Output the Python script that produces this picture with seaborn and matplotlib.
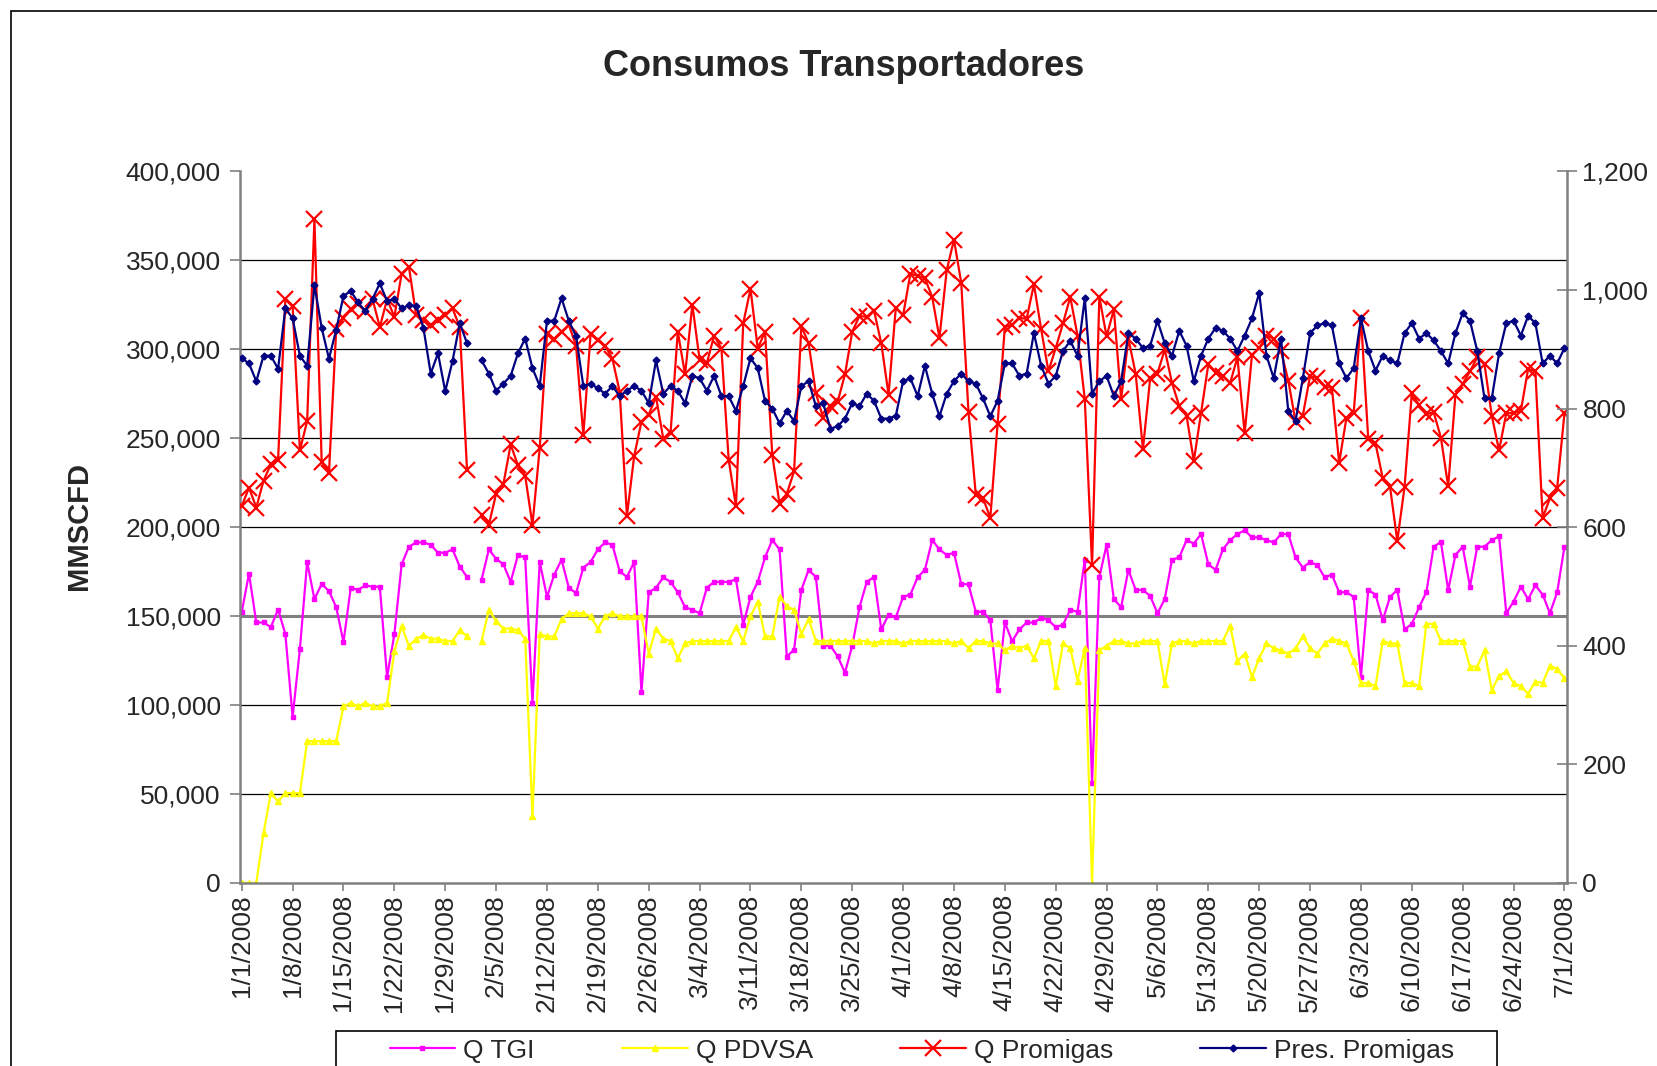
import numpy as np
import pandas as pd
import seaborn as sns
import matplotlib.pyplot as plt
from matplotlib.lines import Line2D
from matplotlib.patches import Rectangle
from matplotlib.ticker import FuncFormatter

nan = np.nan

# daily values 1/1/2008 .. 7/1/2008, flows in thousands of MMSCFD, 2/2 missing
q_tgi = [152.4, 173.9, 146.4, 146.4, 143.8, 153.7, 139.9, 93.3, 131.5, 180.4, 159.5, 168.1, 164.0, 155.0, 135.4, 166.0,
         164.7, 167.3, 166.5, 166.5, 115.8, 139.9, 179.1, 189.0, 191.4, 191.4, 190.1, 185.6, 185.6, 187.5, 177.8, 172.0,
         nan,
         170.5, 187.5, 182.2, 179.1, 169.2, 184.3, 183.0, 101.4, 180.4, 160.8, 173.3, 181.7, 166.0, 162.9, 177.2,
         180.4, 187.5, 191.4, 190.1, 175.2, 172.0, 180.4, 107.2, 163.3, 165.9, 171.8, 169.2, 163.4, 155.0, 153.5,
         151.6, 166.0, 169.2, 169.2, 169.2, 170.7, 145.1, 160.8, 169.2, 183.0, 192.7, 187.5, 127.2, 131.2, 164.7,
         175.9, 172.0, 133.3, 133.3, 127.4, 118.2, 133.3, 155.0, 169.2, 172.0, 142.5, 150.8, 149.3, 160.8, 162.1, 171.8,
         176.0, 192.7, 187.5, 184.3, 185.6, 168.1, 167.8, 152.4, 152.4, 147.7, 108.5, 146.4, 135.9, 142.5, 146.4,
         146.4, 149.0, 147.7, 143.8, 145.1, 153.5, 152.4, 181.7, 56.2, 171.8, 190.1, 159.5, 155.0, 176.0, 164.7, 164.7,
         161.3, 151.6, 159.5, 181.7, 183.0, 192.7, 190.8, 196.1, 179.1, 176.0, 187.5, 192.7, 196.1, 198.2, 194.2,
         194.2, 192.7, 191.4, 196.1, 196.1, 183.0, 177.3, 180.4, 178.6, 171.8, 173.3, 163.4, 163.4, 160.8, 115.8, 164.7,
         162.1, 147.7, 160.8, 164.7, 142.5, 145.6, 155.0, 163.4, 189.0, 191.6, 164.7, 184.3, 189.0, 166.5, 189.0,
         189.0, 192.7, 194.8, 151.6, 158.2, 166.5, 159.5, 167.3, 162.1, 151.6, 163.4, 189.0]

q_pdvsa = [0, 0, 0, 28.0, 50.5, 45.8, 50.5, 50.5, 50.5, 79.7, 79.7, 79.7, 79.7, 79.7, 99.3, 101.2,
           99.3, 101.2, 99.3, 99.3, 101.2, 130.1, 144.3, 133.3, 137.3, 139.3, 137.3, 137.3, 136.0, 136.0, 142.0, 138.6,
           nan,
           136.0, 153.5, 147.2, 143.0, 143.0, 142.0, 137.3, 37.4, 139.9, 138.6, 138.6, 148.2, 151.6, 151.6, 151.6,
           149.8, 143.0, 149.8, 151.6, 149.8, 149.8, 149.8, 149.8, 128.9, 143.0, 137.3, 136.0, 126.3, 134.6, 136.0,
           136.0, 136.0, 136.0, 136.0, 136.0, 143.8, 136.0, 149.8, 158.2, 138.6, 138.6, 160.8, 155.6, 153.5, 139.9,
           148.2, 136.0, 136.0, 136.0, 136.0, 136.0, 136.0, 136.0, 136.0, 134.6, 136.0, 136.0, 136.0, 134.6, 136.0, 136.0,
           136.0, 136.0, 136.0, 136.0, 134.6, 136.0, 132.0, 136.0, 136.0, 134.6, 134.6, 130.7, 133.3, 132.0, 133.3,
           126.3, 136.0, 136.0, 110.6, 134.6, 132.0, 113.7, 132.0, 0.0, 130.7, 133.3, 136.0, 136.0, 134.6, 134.6, 136.0,
           136.0, 136.0, 111.6, 134.6, 136.0, 136.0, 134.6, 136.0, 136.0, 136.0, 136.0, 144.6, 124.7, 128.9, 115.8,
           126.3, 134.6, 132.0, 130.7, 128.9, 132.0, 138.6, 132.0, 128.9, 134.6, 137.3, 136.0, 134.6, 124.7, 112.4, 112.4,
           110.6, 136.0, 134.6, 134.6, 112.4, 112.4, 110.6, 145.6, 145.6, 136.0, 136.0, 136.0, 136.0, 121.6, 121.6,
           130.7, 108.5, 116.3, 119.0, 112.4, 110.6, 106.4, 113.2, 112.4, 122.1, 120.3, 115.0]

q_promigas = [211.8, 222.2, 211.0, 226.1, 235.3, 237.9, 328.1, 324.2, 243.1, 259.6, 373.0, 236.6, 230.6, 311.1, 317.6,
              322.4, 325.5, 321.6, 328.1, 312.4, 328.1, 318.2, 342.5, 346.4, 319.0, 316.3, 313.7, 316.3, 319.0, 322.9,
              312.4, 231.9,
              nan,
              207.1, 201.3, 218.8, 224.1, 246.5, 234.8, 228.8, 201.3, 244.4, 308.5, 305.9, 309.8, 313.7, 302.0, 251.8,
              308.5, 305.1, 302.0, 294.6, 276.2, 206.5, 240.0, 259.3, 263.3, 273.2, 249.7, 252.8, 309.8, 285.8, 325.0,
              294.1, 292.3, 307.7, 300.4, 237.9, 211.8, 314.5, 333.9, 300.4, 309.8, 240.5, 213.1, 218.8, 231.4, 312.9,
              303.3, 275.3, 261.4, 268.0, 270.6, 285.8, 309.8, 318.7, 318.2, 321.6, 303.3, 274.5, 323.4, 319.0, 342.5,
              341.2,
              339.9, 329.4, 306.4, 344.3, 361.6, 337.3, 264.6, 218.3, 216.2, 205.2, 258.0, 312.4, 313.7, 317.6, 317.1,
              336.5, 311.1, 287.6, 300.7, 314.5, 329.4, 307.7, 271.9, 178.6, 329.4, 307.2, 322.4, 271.9, 305.9, 286.3,
              243.9,
              283.7, 286.3, 299.9, 281.0, 268.0, 262.7, 237.1, 264.1, 291.5, 286.8, 285.0, 281.0, 295.4, 252.8, 296.7,
              300.7, 307.7, 305.9, 298.8, 282.4, 259.3, 262.7, 285.0, 283.7, 279.0, 278.4, 236.1, 261.4, 264.1, 317.6,
              249.7,
              247.1, 227.5, 222.7, 192.2, 222.7, 275.2, 268.6, 263.4, 264.7, 250.3, 222.9, 274.5, 280.5, 287.6, 295.4,
              291.5, 262.7, 243.1, 264.1, 264.1, 265.4, 288.9, 287.6, 205.2, 216.2, 222.2, 264.1]

pres_promigas = [885, 876, 846, 889, 889, 867, 969, 952, 889, 872, 1008, 936, 884, 933, 990, 998, 979, 964, 985, 1011,
                 981, 985, 969, 974, 973, 936, 859, 893, 829, 880, 944, 910,
                 nan,
                 881, 859, 830, 842, 855, 893, 918, 868, 838, 948, 948, 986, 948, 922, 838, 842, 834, 825, 838, 821,
                 830, 838, 830, 809, 881, 825, 838, 830, 809, 855,
                 851, 830, 855, 821, 821, 796, 838, 885, 868, 813, 800, 775, 796, 779, 838, 846, 804, 809, 766, 770,
                 783, 809, 804, 825, 813, 783, 783, 788, 846, 851, 821,
                 872, 825, 787, 825, 846, 859, 846, 842, 817, 787, 813, 876, 876, 855, 859, 927, 872, 842, 855, 897,
                 914, 889, 986, 825, 846, 855, 821, 846, 927, 918, 902,
                 906, 948, 910, 889, 931, 906, 846, 889, 918, 936, 931, 918, 897, 923, 952, 995, 889, 851, 918, 796,
                 779, 851, 927, 940, 944, 940, 876, 851, 868, 952, 897,
                 864, 889, 881, 876, 927, 944, 918, 927, 915, 897, 876, 927, 961, 948, 897, 817, 817, 893, 944, 948,
                 923, 956, 944, 876, 889, 876, 902]

series_names = ["Q TGI", "Q PDVSA", "Q Promigas", "Pres. Promigas"]

days = np.arange(len(q_tgi))
dates = pd.date_range("2008-01-01", periods=len(days), freq="D")
tick_days = days[::7]
tick_labels = [f"{d.month}/{d.day}/{d.year}" for d in dates[::7]]

sns.set_style("white")
plt.rcParams["font.family"] = ["Liberation Sans", "DejaVu Sans"]

fig = plt.figure(figsize=(16.58, 10.66), dpi=100)
ax = fig.add_axes([0.1448, 0.1717, 0.8004, 0.6676])
ax2 = ax.twinx()

# gridlines (the 150,000 one shows grey and heavier in the original)
for g in [50000, 100000, 200000, 250000, 300000, 350000]:
    ax.axhline(g, color="black", lw=0.9, zorder=0.5)
ax.axhline(150000, color="#808080", lw=2.2, zorder=0.6)


def draw(axis, vals, scale, **kw):
    # plot each unbroken run separately so the missing day leaves a gap
    s = pd.Series(vals, index=days, dtype=float) * scale
    run = s.isna().cumsum()
    for _, part in s.groupby(run):
        part = part.dropna()
        sns.lineplot(x=part.index, y=part.values, ax=axis, **kw)


styles = [
    dict(color="#FF00FF", marker="s", markersize=3),
    dict(color="#FFFF00", marker="^", markersize=4),
    dict(color="#FF0000", marker="x", markersize=11, markeredgewidth=1.6),
    dict(color="#000080", marker="D", markersize=3.5),
]
for st in styles:
    st.setdefault("markeredgewidth", 1)
    st["markeredgecolor"] = st["color"]
    st["markerfacecolor"] = st["color"]
    st["linewidth"] = 1.6

draw(ax, q_tgi, 1000, zorder=2, **styles[0])
draw(ax, q_pdvsa, 1000, zorder=2, **styles[1])
draw(ax, q_promigas, 1000, zorder=3, **styles[2])
draw(ax2, pres_promigas, 1, zorder=3, **styles[3])

ax.set_xlim(-0.23, 182.37)
ax.set_ylim(0, 400000)
ax2.set_ylim(0, 1200)
ax.set_yticks(np.arange(0, 400001, 50000))
ax2.set_yticks(np.arange(0, 1201, 200))
ax.yaxis.set_major_formatter(FuncFormatter(lambda v, p: f"{v:,.0f}"))
ax2.yaxis.set_major_formatter(FuncFormatter(lambda v, p: f"{v:,.0f}"))
ax.set_xticks(tick_days)
ax.set_xticklabels(tick_labels, rotation=90)
ax.set_xlabel("")
ax.set_ylabel("")
ax2.set_ylabel("")
ax.grid(False)
ax2.grid(False)

for sp in ["top", "right"]:
    ax.spines[sp].set_visible(False)
for sp in ["top", "left", "bottom"]:
    ax2.spines[sp].set_visible(False)
for sp in [ax.spines["left"], ax.spines["bottom"], ax2.spines["right"]]:
    sp.set_color("#808080")
    sp.set_linewidth(1.8)

ax.tick_params(axis="y", direction="out", length=7, width=1.2, color="#808080", pad=7, labelsize=19, left=True)
ax.tick_params(axis="x", direction="out", length=6, width=1.2, color="#808080", pad=2, labelsize=19, bottom=True)
ax2.tick_params(axis="y", direction="inout", length=14, width=1.2, color="#808080", pad=4, labelsize=19, right=True)

fig.text(0.509, 0.938, "Consumos Transportadores", ha="center", va="center", fontsize=26, fontweight="bold")
fig.text(0.0477, 0.507, "MMSCFD", rotation=90, ha="center", va="center", fontsize=21, fontweight="bold")

# legend box runs off the bottom edge, as in the original
fig.patches.append(Rectangle((336 / 1658, -0.05), (1497 - 336) / 1658, 0.05 + 0.0328,
                             transform=fig.transFigure, fill=False, edgecolor="black", linewidth=1.2))
handles = [Line2D([], [], **st) for st in styles]
fig.legend(handles, series_names, loc="center", bbox_to_anchor=(0.556, 0.0145), ncol=4,
           frameon=False, fontsize=19, handlelength=2.5, columnspacing=3.3,
           borderpad=0, borderaxespad=0, handletextpad=0.3)

# outer chart border
fig.patches.append(Rectangle((0.0064, -0.05), 1.2, 1.04, transform=fig.transFigure,
                             fill=False, edgecolor="black", linewidth=1.2))

fig.savefig("out.png", dpi=100)
